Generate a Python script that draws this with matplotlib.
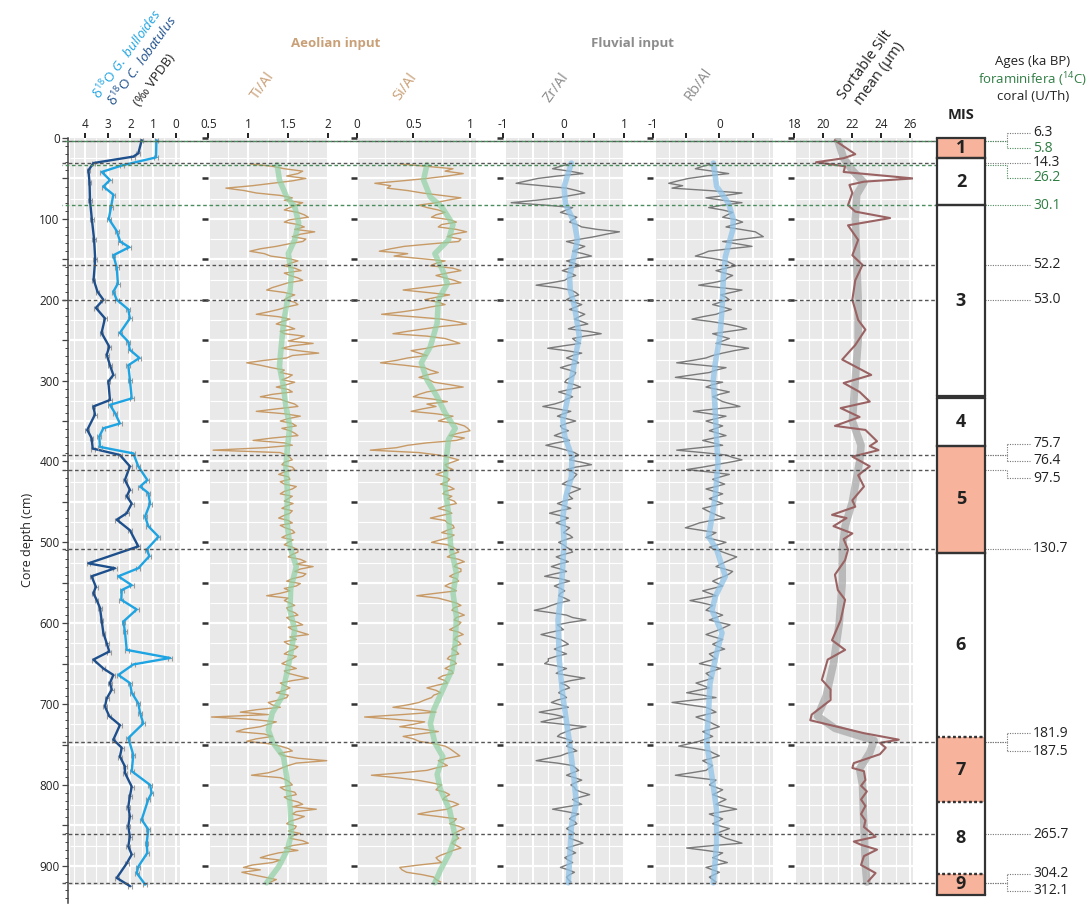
import numpy as np
import matplotlib
matplotlib.use('Agg')
import matplotlib.pyplot as plt
from matplotlib.patches import Rectangle
from matplotlib.ticker import MultipleLocator

plt.rcParams['font.family'] = ['Open Sans', 'DejaVu Sans']
plt.rcParams['mathtext.fontset'] = 'custom'
plt.rcParams['mathtext.rm'] = 'Open Sans'
plt.rcParams['mathtext.it'] = 'Open Sans:italic'
plt.rcParams['mathtext.bf'] = 'Open Sans:bold'

# ---- stable isotopes (depth cm, per mil VPDB) ----
lob_depth = [3, 19, 23, 31, 40, 55, 77, 100, 125, 150, 175, 190, 200, 210, 223, 241, 258, 268, 281, 293,
             301, 324, 332, 342, 361, 371, 384, 392, 406, 423, 435, 443, 452, 464, 472, 485, 505, 526, 532, 542,
             555, 563, 571, 581, 596, 612, 625, 635, 645, 656, 664, 674, 682, 693, 703, 715, 726, 744, 754, 765,
             777, 785, 802, 814, 827, 839, 851, 864, 876, 886, 897, 915, 925]
lob_d18o = [1.50, 1.65, 1.87, 3.63, 3.85, 3.80, 3.78, 3.70, 3.60, 3.55, 3.62, 3.45, 3.19, 3.52, 3.12, 3.27, 2.93, 3.04, 2.90, 2.75,
            2.97, 2.90, 3.63, 3.56, 3.90, 3.71, 3.66, 2.46, 2.02, 2.24, 2.02, 2.16, 1.94, 2.16, 2.60, 2.02, 1.65, 3.85, 2.68, 3.71,
            3.52, 3.63, 3.49, 3.34, 3.27, 3.19, 3.04, 2.93, 3.63, 3.19, 2.75, 2.90, 2.82, 3.04, 3.12, 2.93, 2.46, 2.75, 2.38, 2.46,
            2.24, 2.24, 1.94, 2.02, 2.09, 2.02, 2.09, 2.02, 2.09, 1.94, 2.16, 2.60, 2.02]
bul_depth = [3, 24, 34, 42, 52, 60, 70, 85, 100, 115, 128, 135, 145, 160, 180, 190, 200, 212, 223, 241,
             252, 262, 272, 281, 299, 322, 330, 340, 353, 359, 369, 382, 390, 406, 423, 431, 439, 452, 468, 480,
             493, 509, 517, 532, 542, 553, 559, 571, 583, 598, 610, 633, 643, 651, 664, 674, 686, 699, 711, 724,
             742, 763, 783, 800, 810, 818, 843, 855, 872, 884, 901, 909, 923]
bul_d18o = [0.85, 0.87, 2.38, 3.26, 2.90, 3.19, 2.75, 2.85, 2.95, 2.60, 2.45, 2.05, 2.75, 2.60, 2.55, 2.75, 2.60, 2.09, 2.02, 2.46,
            2.09, 2.02, 1.60, 2.09, 2.02, 1.94, 2.90, 2.68, 2.46, 3.19, 3.37, 3.34, 1.87, 1.65, 1.25, 1.57, 1.21, 1.13, 1.35, 1.21,
            0.76, 1.28, 1.16, 1.65, 2.53, 1.94, 2.38, 2.40, 1.72, 2.31, 2.24, 2.16, 0.25, 1.87, 2.53, 2.02, 1.94, 1.65, 1.57, 1.43,
            2.09, 1.87, 1.94, 1.13, 1.06, 1.21, 1.50, 1.21, 1.28, 1.25, 1.65, 1.72, 1.35]

# ---- XRF ratios: even scans every 6 cm from 32 cm, odd scans in between (35 cm onwards) ----
ti_al = [1.02, 1.45, 1.62, 1.72, 1.30, 0.72, 1.10, 1.55, 1.68, 1.52,
         1.62, 1.75, 1.45, 1.70, 1.83, 1.55, 1.68, 1.35, 1.02, 1.28,
         1.62, 1.45, 1.66, 1.52, 1.68, 1.40, 1.23, 1.58, 1.45, 1.62,
         1.38, 1.10, 1.52, 1.35, 1.58, 1.45, 1.62, 1.81, 1.42, 1.88,
         1.48, 0.98, 1.29, 1.40, 1.50, 1.58, 1.35, 1.55, 1.15, 1.48,
         1.62, 1.10, 1.65, 1.40, 1.60, 1.52, 1.62, 1.06, 1.55, 0.56,
         1.48, 1.55, 1.42, 1.58, 1.38, 1.52, 1.45, 1.55, 1.40, 1.50,
         1.56, 1.42, 1.52, 1.38, 1.55, 1.46, 1.58, 1.42, 1.50, 1.55,
         1.62, 1.50, 1.72, 1.81, 1.58, 1.68, 1.48, 1.60, 1.52, 1.23,
         1.45, 1.58, 1.50, 1.62, 1.52, 1.68, 1.55, 1.75, 1.60, 1.50,
         1.58, 1.45, 1.55, 1.42, 1.60, 1.50, 1.75, 1.40, 1.52, 1.35,
         1.48, 1.25, 1.40, 0.90, 0.54, 1.35, 1.15, 0.85, 1.30, 0.98,
         1.40, 1.55, 1.45, 1.98, 1.50, 1.35, 1.04, 1.48, 1.55, 1.45,
         1.60, 1.50, 1.68, 1.85, 1.55, 1.62, 1.48, 1.58, 1.65, 1.52,
         1.75, 1.45, 1.38, 1.15, 1.30, 0.94, 0.92, 1.20, 1.28]
ti_al_mid = [1.30, 1.68, 1.48, 1.55, 1.05, 0.95, 1.40, 1.45, 1.60, 1.45,
             1.70, 1.52, 1.62, 1.58, 1.65, 1.72, 1.50, 1.15, 1.20, 1.50,
             1.52, 1.58, 1.45, 1.62, 1.50, 1.30, 1.45, 1.50, 1.58, 1.48,
             1.25, 1.38, 1.42, 1.50, 1.40, 1.70, 1.50, 1.55, 1.62, 1.55,
             1.20, 1.15, 1.45, 1.55, 1.42, 1.48, 1.50, 1.30, 1.40, 1.58,
             1.35, 1.45, 1.50, 1.55, 1.42, 1.58, 1.30, 1.45, 1.20, 1.40,
             1.52, 1.45, 1.55, 1.45, 1.50, 1.40, 1.60, 1.45, 1.55, 1.45,
             1.48, 1.55, 1.44, 1.50, 1.40, 1.55, 1.48, 1.56, 1.45, 1.62,
             1.55, 1.65, 1.60, 1.65, 1.72, 1.55, 1.65, 1.45, 1.40, 1.50,
             1.52, 1.48, 1.58, 1.48, 1.62, 1.50, 1.65, 1.52, 1.45, 1.62,
             1.50, 1.60, 1.48, 1.52, 1.45, 1.62, 1.55, 1.45, 1.45, 1.50,
             1.38, 1.30, 1.10, 1.25, 1.05, 1.25, 0.95, 1.20, 1.10, 1.25,
             1.50, 1.38, 1.62, 1.60, 1.42, 1.25, 1.40, 1.52, 1.40, 1.58,
             1.45, 1.62, 1.55, 1.60, 1.70, 1.52, 1.60, 1.50, 1.55, 1.68,
             1.55, 1.62, 1.25, 1.40, 1.05, 1.15, 1.05, 1.35]
si_al = [0.38, 0.85, 0.94, 0.62, 0.16, 0.27, 0.58, 0.92, 0.70, 0.62,
         0.78, 0.66, 0.88, 0.72, 0.97, 0.80, 0.90, 0.42, 0.20, 0.33,
         0.78, 0.65, 0.92, 0.70, 0.86, 0.75, 0.41, 0.82, 0.60, 0.78,
         0.55, 0.22, 0.75, 0.97, 0.60, 0.32, 0.78, 0.91, 0.62, 0.55,
         0.45, 0.21, 0.60, 0.72, 0.55, 0.68, 0.94, 0.62, 0.50, 0.80,
         0.70, 0.48, 0.85, 0.72, 0.95, 1.00, 0.82, 0.88, 0.45, 0.12,
         0.72, 0.90, 0.78, 0.85, 0.70, 0.82, 0.74, 0.86, 0.76, 0.80,
         0.88, 0.72, 0.84, 0.65, 0.80, 0.86, 0.75, 0.82, 0.66, 0.85,
         0.90, 0.80, 0.95, 0.86, 0.92, 0.82, 0.90, 0.78, 0.88, 0.53,
         0.80, 0.92, 0.84, 0.95, 0.86, 0.90, 0.82, 0.94, 0.86, 0.92,
         0.84, 0.90, 0.80, 0.88, 0.78, 0.85, 0.72, 0.80, 0.62, 0.74,
         0.66, 0.55, 0.32, 0.70, 0.07, 0.60, 0.38, 0.72, 0.41, 0.55,
         0.78, 0.85, 0.91, 0.72, 0.80, 0.62, 0.13, 0.53, 0.75, 0.70,
         0.82, 0.76, 0.90, 0.80, 0.54, 0.88, 0.82, 0.95, 0.86, 0.90,
         0.84, 0.92, 0.80, 0.70, 0.75, 0.38, 0.44, 0.68, 0.74]
si_al_mid = [0.62, 0.78, 0.80, 0.40, 0.30, 0.45, 0.75, 0.80, 0.55, 0.72,
             0.70, 0.82, 0.75, 0.88, 0.85, 0.92, 0.65, 0.30, 0.45, 0.55,
             0.70, 0.85, 0.80, 0.78, 0.92, 0.58, 0.62, 0.70, 0.72, 0.65,
             0.40, 0.50, 0.88, 0.75, 0.45, 0.62, 0.85, 0.72, 0.48, 0.62,
             0.35, 0.42, 0.65, 0.62, 0.64, 0.82, 0.75, 0.55, 0.68, 0.62,
             0.58, 0.70, 0.78, 0.88, 0.98, 0.90, 0.95, 0.62, 0.35, 0.55,
             0.82, 0.84, 0.80, 0.76, 0.78, 0.80, 0.82, 0.78, 0.84, 0.86,
             0.78, 0.80, 0.74, 0.78, 0.85, 0.80, 0.86, 0.74, 0.80, 0.88,
             0.84, 0.90, 0.88, 0.92, 0.86, 0.88, 0.82, 0.84, 0.70, 0.72,
             0.88, 0.86, 0.90, 0.88, 0.92, 0.86, 0.90, 0.88, 0.90, 0.86,
             0.88, 0.82, 0.86, 0.82, 0.84, 0.76, 0.78, 0.70, 0.70, 0.68,
             0.60, 0.45, 0.55, 0.40, 0.35, 0.50, 0.58, 0.55, 0.50, 0.68,
             0.82, 0.88, 0.80, 0.76, 0.70, 0.40, 0.35, 0.65, 0.72, 0.78,
             0.78, 0.85, 0.84, 0.65, 0.72, 0.86, 0.90, 0.90, 0.88, 0.86,
             0.88, 0.85, 0.74, 0.72, 0.55, 0.40, 0.58, 0.70]
zr_al = [0.10, -0.18, 0.32, -0.42, -0.78, 0.05, 0.35, -0.10, -0.86, 0.15,
         -0.05, 0.22, 0.10, 0.30, 0.92, 0.51, 0.05, 0.35, 0.15, 0.46,
         0.05, 0.28, -0.02, 0.20, 0.02, -0.45, 0.12, 0.25, 0.05, 0.30,
         0.10, 0.35, 0.18, 0.40, 0.08, 0.62, 0.15, 0.28, -0.26, 0.30,
         0.05, 0.25, -0.05, 0.20, 0.12, 0.02, 0.28, -0.08, 0.15, -0.02,
         -0.34, 0.12, -0.10, 0.20, -0.05, 0.08, -0.15, 0.10, -0.29, 0.05,
         0.25, 0.10, 0.46, 0.05, 0.22, 0.15, -0.02, 0.28, 0.08, 0.15,
         -0.10, 0.12, -0.23, 0.08, -0.12, 0.10, 0.00, 0.15, -0.08, 0.05,
         0.15, -0.12, 0.08, -0.20, 0.05, -0.31, 0.10, -0.15, 0.02, -0.08,
         0.10, -0.20, -0.48, 0.05, 0.37, -0.10, 0.00, -0.37, -0.05, 0.08,
         -0.15, 0.05, -0.25, -0.31, 0.05, -0.12, 0.35, -0.05, 0.10, -0.08,
         0.05, -0.20, 0.08, -0.40, 0.02, -0.37, 0.37, 0.05, -0.10, 0.15,
         0.05, 0.22, -0.05, -0.45, 0.15, 0.25, 0.05, 0.30, 0.12, 0.20,
         0.43, 0.15, 0.30, -0.18, 0.25, 0.10, 0.22, 0.05, 0.18, 0.10,
         0.32, 0.05, 0.20, 0.02, 0.15, -0.05, 0.18, 0.05, 0.12]
zr_al_mid = [-0.05, 0.10, -0.10, -0.60, -0.35, 0.22, 0.12, -0.45, -0.30, 0.05,
             0.10, 0.15, 0.22, 0.55, 0.70, 0.28, 0.20, 0.25, 0.32, 0.22,
             0.18, 0.10, 0.12, 0.08, -0.20, -0.10, 0.20, 0.12, 0.18, 0.20,
             0.25, 0.26, 0.30, 0.20, 0.40, 0.35, 0.20, 0.00, 0.05, 0.15,
             0.18, 0.08, 0.10, 0.18, 0.05, 0.18, 0.10, 0.05, 0.05, -0.15,
             -0.10, 0.00, 0.05, 0.05, -0.02, -0.05, 0.00, -0.12, -0.10, 0.18,
             0.15, 0.30, 0.20, 0.15, 0.18, 0.05, 0.15, 0.18, 0.10, 0.00,
             0.02, -0.08, -0.05, -0.02, 0.00, 0.05, 0.10, 0.02, 0.00, 0.12,
             0.00, -0.02, -0.08, -0.05, -0.15, -0.05, -0.05, -0.05, -0.05, 0.02,
             -0.08, -0.30, -0.20, 0.15, 0.10, -0.05, -0.20, -0.20, 0.02, -0.05,
             -0.05, -0.12, -0.25, -0.10, -0.05, 0.10, 0.12, 0.05, -0.02, 0.00,
             -0.10, -0.05, -0.18, -0.15, -0.20, 0.00, 0.15, -0.05, 0.05, 0.10,
             0.15, 0.05, -0.25, -0.10, 0.20, 0.15, 0.18, 0.20, 0.18, 0.30,
             0.28, 0.22, 0.05, 0.05, 0.15, 0.18, 0.12, 0.12, 0.12, 0.22,
             0.18, 0.12, 0.10, 0.08, 0.05, 0.08, 0.10, 0.08]
rb_al = [-0.10, -0.36, 0.14, -0.46, -0.76, -0.71, 0.34, -0.20, 0.34, -0.16,
         0.20, 0.05, 0.35, 0.10, 0.54, 0.66, 0.05, 0.49, -0.16, -0.36,
         0.10, 0.25, -0.05, 0.20, 0.08, -0.31, 0.34, 0.02, 0.15, -0.10,
         0.18, -0.05, -0.41, 0.10, 0.41, -0.10, 0.15, -0.05, 0.44, 0.05,
         -0.20, -0.64, 0.10, -0.15, -0.66, 0.05, -0.20, 0.15, -0.10, 0.05,
         0.31, -0.39, 0.10, -0.20, 0.05, -0.15, 0.10, -0.25, 0.05, -0.64,
         0.10, 0.34, -0.05, -0.49, 0.15, -0.10, 0.08, -0.20, 0.05, -0.15,
         0.05, -0.25, -0.10, 0.08, -0.30, -0.51, -0.05, -0.20, 0.10, -0.15,
         0.05, 0.26, 0.10, -0.05, 0.20, 0.08, -0.10, 0.05, -0.25, -0.05,
         -0.44, -0.10, -0.20, 0.05, -0.15, 0.16, 0.00, -0.20, 0.05, -0.10,
         0.08, -0.15, -0.05, -0.30, 0.02, -0.20, -0.10, -0.35, -0.15, -0.49,
         -0.05, -0.71, -0.20, -0.05, -0.35, -0.15, 0.00, -0.25, -0.10, -0.30,
         -0.61, -0.15, 0.00, -0.25, -0.10, -0.20, -0.66, -0.05, -0.15, 0.05,
         -0.10, 0.10, -0.05, 0.26, -0.15, 0.05, -0.10, 0.15, -0.05, 0.10,
         0.34, -0.49, 0.05, -0.10, 0.12, -0.20, 0.00, -0.15, -0.05]
rb_al_mid = [-0.25, -0.10, -0.20, -0.62, -0.55, -0.15, 0.10, 0.05, 0.05, 0.05,
             0.12, 0.25, 0.22, 0.32, 0.60, 0.35, 0.28, 0.15, -0.25, -0.10,
             0.18, 0.10, 0.08, 0.12, -0.10, 0.02, 0.18, 0.10, 0.02, 0.05,
             0.05, -0.25, -0.12, 0.28, 0.15, 0.02, 0.05, 0.20, 0.22, -0.10,
             -0.40, -0.25, -0.05, -0.40, -0.30, -0.10, -0.02, 0.00, -0.02, 0.18,
             -0.05, -0.15, -0.05, -0.08, -0.05, -0.02, -0.08, -0.10, -0.30, -0.25,
             0.20, 0.15, -0.25, -0.15, 0.02, -0.02, -0.05, -0.08, -0.05, -0.05,
             -0.10, -0.18, -0.02, -0.12, -0.40, -0.28, -0.12, -0.05, -0.02, -0.05,
             0.15, 0.18, 0.02, 0.08, 0.15, -0.02, -0.02, -0.10, -0.15, -0.25,
             -0.25, -0.15, -0.05, -0.05, 0.00, 0.08, -0.10, -0.08, -0.02, -0.02,
             -0.05, -0.10, -0.18, -0.12, -0.10, -0.15, -0.22, -0.25, -0.32, -0.25,
             -0.38, -0.45, -0.12, -0.20, -0.25, -0.08, -0.12, -0.18, -0.20, -0.45,
             -0.35, -0.08, -0.12, -0.18, -0.15, -0.42, -0.35, -0.10, -0.05, -0.02,
             0.00, 0.02, 0.10, 0.05, -0.05, -0.02, 0.02, 0.05, 0.02, 0.22,
             -0.10, -0.20, -0.02, 0.00, -0.05, -0.10, -0.08, -0.10]

# smoothed trends
ti_smooth_depth = [33, 52, 73, 85, 105, 126, 143, 167, 190, 200, 229, 270, 283, 307, 332, 357, 381, 406, 439,
                   472, 505, 530, 557, 584, 608, 633, 658, 691, 711, 732, 748, 765, 790, 823, 860, 880, 901, 921]
ti_smooth = [1.36, 1.39, 1.48, 1.58, 1.63, 1.58, 1.50, 1.54, 1.52, 1.49, 1.44, 1.40, 1.39, 1.44, 1.47, 1.52, 1.49, 1.47, 1.49,
             1.48, 1.52, 1.60, 1.53, 1.52, 1.58, 1.54, 1.49, 1.42, 1.30, 1.25, 1.31, 1.44, 1.48, 1.52, 1.54, 1.49, 1.38, 1.23]
si_smooth_depth = [33, 52, 73, 85, 107, 126, 143, 164, 180, 200, 229, 258, 278, 299, 320, 340, 359, 373, 398, 431,
                   464, 505, 538, 563, 592, 625, 658, 682, 707, 724, 748, 765, 787, 806, 831, 864, 884, 905, 921]
si_smooth = [0.62, 0.59, 0.65, 0.75, 0.85, 0.81, 0.69, 0.76, 0.80, 0.72, 0.71, 0.65, 0.57, 0.62, 0.71, 0.78, 0.87, 0.81, 0.79, 0.78,
             0.81, 0.83, 0.88, 0.85, 0.88, 0.87, 0.84, 0.76, 0.68, 0.65, 0.69, 0.76, 0.71, 0.74, 0.82, 0.87, 0.82, 0.74, 0.69]
zr_smooth_depth = [31, 60, 81, 105, 126, 147, 171, 188, 208, 245, 278, 311, 349, 369, 394, 419, 443, 468, 501,
                   563, 596, 645, 691, 748, 790, 822, 851, 892, 921]
zr_smooth = [0.13, 0.01, 0.03, 0.18, 0.23, 0.17, 0.10, 0.11, 0.18, 0.26, 0.18, 0.10, -0.01, 0.02, 0.14, 0.13, 0.04, -0.01, 0.01,
             -0.04, -0.09, -0.07, -0.01, 0.10, 0.17, 0.21, 0.13, 0.10, 0.08]
rb_smooth_depth = [31, 60, 81, 101, 114, 126, 147, 175, 212, 245, 278, 299, 340, 373, 402, 443, 468, 493, 509, 542,
                   567, 584, 612, 637, 674, 707, 748, 790, 831, 872, 921]
rb_smooth = [-0.09, -0.04, 0.14, 0.21, 0.20, 0.16, 0.09, 0.06, 0.04, 0.01, -0.06, -0.09, -0.06, -0.04, -0.02, -0.06, -0.11, -0.16,
             -0.04, 0.09, -0.06, -0.11, 0.04, -0.04, -0.14, -0.16, -0.19, -0.11, -0.04, -0.04, -0.09]

# ---- sortable silt mean (um) ----
ss_depth = [3, 20, 25, 30, 35, 42, 50, 54, 58, 68, 83, 91, 99, 108, 126, 145, 157, 176, 200, 225,
            237, 256, 274, 293, 303, 314, 326, 334, 345, 356, 361, 375, 381, 386, 394, 406, 417, 431, 448, 456,
            466, 470, 480, 489, 496, 509, 522, 540, 559, 571, 596, 621, 633, 645, 670, 682, 695, 713, 720, 736,
            744, 748, 754, 762, 773, 779, 783, 794, 801, 808, 818, 826, 836, 844, 852, 864, 870, 874, 880, 888,
            899, 909, 919]
ss_mean = [20.8, 22.2, 21.4, 19.5, 21.5, 21.4, 26.2, 22.8, 21.8, 22.0, 21.7, 22.2, 24.6, 21.7, 22.4, 22.0, 22.7, 22.2, 22.0, 22.4,
           22.9, 22.2, 21.3, 23.3, 21.4, 22.5, 23.2, 21.2, 22.5, 20.8, 22.9, 23.7, 23.2, 23.8, 22.0, 23.2, 22.4, 22.8, 22.0, 22.2,
           20.6, 21.6, 20.7, 22.0, 21.4, 21.7, 21.5, 20.8, 21.0, 21.5, 21.2, 20.6, 21.5, 20.3, 19.9, 20.5, 20.5, 19.2, 19.1, 22.8,
           25.2, 23.9, 24.3, 23.9, 22.1, 22.0, 22.8, 22.9, 22.6, 23.0, 22.6, 22.9, 22.6, 22.9, 22.8, 23.6, 22.1, 22.6, 23.7, 22.8,
           22.6, 23.6, 23.1]
ss_smooth_depth = [3, 25, 40, 55, 70, 100, 150, 200, 250, 300, 350, 380, 400, 450, 480, 510, 550, 600, 650, 690,
                   715, 730, 745, 760, 780, 800, 850, 900, 920]
ss_smooth = [21.0, 21.4, 22.0, 22.8, 22.3, 22.2, 22.3, 22.4, 22.4, 22.2, 22.0, 22.6, 22.5, 22.0, 21.5, 21.3, 21.3, 21.1, 20.7, 20.2,
             19.6, 20.8, 23.5, 23.2, 22.5, 22.7, 22.8, 22.9, 23.0]

# ---- marine isotope stages ----
mis_stage = ['1', '2', '3', '4', '5', '6', '7', '8', '9']
mis_top = [0, 25, 83, 321, 381, 513, 741, 821, 910]
mis_base = [25, 83, 319, 381, 513, 741, 821, 910, 936]
mis_warm = [True, False, False, False, True, False, True, False, True]
mis_uncertain = [741, 821, 910]

# ---- dated levels ----
age_ka = ['6.3', '5.8', '14.3', '26.2', '30.1', '52.2', '53.0', '75.7', '76.4', '97.5',
          '130.7', '181.9', '187.5', '265.7', '304.2', '312.1']
age_depth = [4.0, 4.3, 31.3, 34.0, 83.0, 157, 200, 392, 392, 411, 508, 747, 747, 861, 921.5, 921.5]
age_method = ['coral', 'foram', 'coral', 'foram', 'foram', 'coral', 'coral', 'coral', 'coral', 'coral',
              'coral', 'coral', 'coral', 'coral', 'coral', 'coral']
label_shift_px = [-8.5, 7.0, -0.5, 12.5, 0, 0, 0, -11, 6, 8, 0, -9, 9, 0, -9.5, 7.5]


def interleave(even, odd):
    out = np.empty(len(even) + len(odd))
    out[0::2] = even
    out[1::2] = odd
    return out


ti_scan = interleave(ti_al, ti_al_mid)
si_scan = interleave(si_al, si_al_mid)
zr_scan = interleave(zr_al, zr_al_mid)
rb_scan = interleave(rb_al, rb_al_mid)
xrf_depth = np.linspace(32, 920, len(ti_scan))

# ---- layout ----
W, H = 1089, 905
TOP, BOT = 138, 903
YMAX = 946
BG_DEPTH = 924
PXCM = (BOT - TOP) / YMAX
GREY = '#e9e9e9'
TAN = '#c79a66'
TAN_TXT = '#c9a077'
GREEN_SM = '#8fd0a2'
BLUE_SM = '#8fc3e8'
XRF_GREY = '#7a7a7a'
LIGHT = '#1ea4e2'
DARK = '#1d4f8c'
FORAM = '#2f7d43'
SALMON = '#f7b39b'
TXT = '#222222'

fig = plt.figure(figsize=(W / 100, H / 100), dpi=100)


def fpos(x, y):
    return x / W, 1 - y / H


def panel(x0, x1, xlim):
    ax = fig.add_axes([x0 / W, 1 - BOT / H, (x1 - x0) / W, (BOT - TOP) / H], zorder=2)
    ax.set_xlim(*xlim)
    ax.set_ylim(YMAX, 0)
    ax.patch.set_visible(False)
    for s in ax.spines.values():
        s.set_visible(False)
    return ax


def backdrop(ax, xa, xb, xgrid, xmajor):
    ax.add_patch(Rectangle((xa, 0), xb - xa, BG_DEPTH, fc=GREY, ec='none', zorder=0.1))
    for x in xgrid:
        lw = 1.5 if any(abs(x - m) < 1e-6 for m in xmajor) else 0.8
        ax.vlines(x, 0, BG_DEPTH, colors='white', lw=lw, zorder=0.3)
    for y in range(25, 925, 25):
        ax.hlines(y, xa, xb, colors='white', lw=1.6 if y % 50 == 0 else 0.8, zorder=0.3)


def top_ticks(ax, ticks, labels):
    ax.xaxis.tick_top()
    ax.set_xticks(ticks, labels)
    ax.tick_params(axis='x', length=3.8, width=1.4, color=TXT, labelsize=8.5, pad=1.5, labelcolor=TXT)


def side_dashes(ax):
    ax.set_yticks(np.arange(0, 901, 50))
    ax.tick_params(axis='y', length=4.2, width=1.8, color='#333333', labelleft=False)


# δ18O panel with the depth axis
ax0 = panel(68, 180, (4.75, -0.19))
backdrop(ax0, 4.66, -0.19, np.arange(0, 4.51, 0.5), [0, 1, 2, 3, 4])
top_ticks(ax0, [4, 3, 2, 1, 0], ['4', '3', '2', '1', '0'])
ax0.spines['left'].set_visible(True)
ax0.spines['left'].set_color('#444444')
ax0.spines['left'].set_linewidth(1.1)
ax0.set_yticks(np.arange(0, 901, 50), [str(d) if d % 100 == 0 else '' for d in range(0, 901, 50)])
ax0.yaxis.set_minor_locator(MultipleLocator(10))
ax0.tick_params(axis='y', which='major', length=4, width=0.9, color='#444444', labelsize=8.5, pad=2, labelcolor=TXT)
ax0.tick_params(axis='y', which='minor', length=2.3, width=0.7, color='#444444')
ax0.errorbar(lob_d18o, lob_depth, xerr=0.08, color=DARK, lw=1.7, ecolor='#9a9a9a', elinewidth=0.8,
             capsize=1.8, capthick=0.8, zorder=3)
ax0.errorbar(bul_d18o, bul_depth, xerr=0.08, color=LIGHT, lw=1.7, ecolor='#9a9a9a', elinewidth=0.8,
             capsize=1.8, capthick=0.8, zorder=4)

# XRF panels
ax1 = panel(208.3, 328.3, (0.5, 2.0))
backdrop(ax1, 0.52, 1.99, np.arange(0.75, 2.01, 0.25), [1.0, 1.5, 2.0])
top_ticks(ax1, [0.5, 1, 1.5, 2], ['0.5', '1', '1.5', '2'])
side_dashes(ax1)
ax1.plot(ti_scan, xrf_depth, color=TAN, lw=1.0, zorder=2)
ax1.plot(ti_smooth, ti_smooth_depth, color=GREEN_SM, lw=4, alpha=0.7, solid_capstyle='round', zorder=3)

ax2 = panel(356.7, 476, (0, 1.053))
backdrop(ax2, 0.01, 1.053, np.arange(0.25, 1.01, 0.25), [0.5, 1.0])
top_ticks(ax2, [0, 0.5, 1], ['0', '0.5', '1'])
side_dashes(ax2)
ax2.plot(si_scan, xrf_depth, color=TAN, lw=1.0, zorder=2)
ax2.plot(si_smooth, si_smooth_depth, color=GREEN_SM, lw=4, alpha=0.7, solid_capstyle='round', zorder=3)

ax3 = panel(502.7, 624.3, (-1, 1.0))
backdrop(ax3, -0.94, 1.0, np.arange(-0.75, 1.01, 0.25), [-0.5, 0, 0.5, 1.0])
top_ticks(ax3, [-1, -0.5, 0, 0.5, 1], ['-1', '', '0', '', '1'])
side_dashes(ax3)
ax3.plot(zr_scan, xrf_depth, color=XRF_GREY, lw=1.0, zorder=2)
ax3.plot(zr_smooth, zr_smooth_depth, color=BLUE_SM, lw=4, alpha=0.75, solid_capstyle='round', zorder=3)

ax4 = panel(652.7, 773.3, (-1, 0.81))
backdrop(ax4, -0.95, 0.81, np.arange(-0.75, 0.76, 0.25), [-0.5, 0, 0.5])
top_ticks(ax4, [-1, -0.5, 0, 0.5], ['-1', '', '0', ''])
side_dashes(ax4)
ax4.plot(rb_scan, xrf_depth, color=XRF_GREY, lw=1.0, zorder=2)
ax4.plot(rb_smooth, rb_smooth_depth, color=BLUE_SM, lw=4, alpha=0.75, solid_capstyle='round', zorder=3)

# sortable silt
ax5 = panel(794.3, 913.3, (18, 26.2))
backdrop(ax5, 18.15, 26.2, np.arange(19, 26.1, 1), [20, 22, 24, 26])
top_ticks(ax5, [18, 20, 22, 24, 26], ['18', '20', '22', '24', '26'])
side_dashes(ax5)
ax5.plot(ss_smooth, ss_smooth_depth, color='#aaaaaa', lw=5.5, alpha=0.75, solid_capstyle='round', zorder=2)
ax5.plot(ss_mean, ss_depth, color='#9a6262', lw=1.5, zorder=3)

# overlay: dated levels, MIS column and age labels
ov = fig.add_axes([0, 1 - BOT / H, 1, (BOT - TOP) / H], zorder=10)
ov.set_xlim(0, W)
ov.set_ylim(YMAX, 0)
ov.axis('off')
ov.patch.set_visible(False)

seen = set()
for d, m in zip(age_depth, age_method):
    if (d, m) in seen:
        continue
    seen.add((d, m))
    col = '#555555' if m == 'coral' else '#4a8c5c'
    ov.plot([62, 937], [d, d], color=col, lw=1.0, ls=(0 if m == 'coral' else 2.2, (2.6, 1.9)), zorder=2)

for top, base, stage, warm in zip(mis_top, mis_base, mis_stage, mis_warm):
    ov.add_patch(Rectangle((937, top), 48, base - top, fc=SALMON if warm else 'white', ec='none', zorder=4))
    ov.vlines([937, 985], top, base, colors='#333333', lw=1.6, zorder=5)
    for edge in (top, base):
        ls = (0, (1.2, 1.2)) if edge in mis_uncertain else '-'
        ov.plot([937, 985], [edge, edge], color='#333333', lw=1.6, ls=ls, zorder=5, clip_on=False)
    ov.text(961, (top + base) / 2, stage, ha='center', va='center', fontsize=13, fontweight='bold',
            color=TXT, zorder=6)

for label, d, m, shift in zip(age_ka, age_depth, age_method, label_shift_px):
    col = '#777777' if m == 'coral' else '#4a8c5c'
    tcol = TXT if m == 'coral' else FORAM
    ly = d + shift / PXCM
    dots = (0, (1.0, 1.2))
    if shift == 0:
        ov.plot([985, 1030], [d, d], color=col, lw=0.8, ls=dots, clip_on=False)
    else:
        ov.plot([985, 1006.5], [d, d], color=col, lw=0.8, ls=dots, clip_on=False)
        ov.plot([1006.5, 1006.5], [d, ly], color=col, lw=0.8, ls=dots, clip_on=False)
        ov.plot([1006.5, 1030], [ly, ly], color=col, lw=0.8, ls=dots, clip_on=False)
    ov.text(1033, ly, label, ha='left', va='center', fontsize=10, color=tcol, clip_on=False)

# headers
fig.text(*fpos(1033, 62), 'Ages (ka BP)', ha='center', va='center', fontsize=9.5, color=TXT)
fig.text(*fpos(1033, 80), 'foraminifera ($^{14}$C)', ha='center', va='center', fontsize=9.5, color=FORAM)
fig.text(*fpos(1033, 97), 'coral (U/Th)', ha='center', va='center', fontsize=9.5, color=TXT)
fig.text(*fpos(961, 115), 'MIS', ha='center', va='center', fontsize=10.5, fontweight='bold', color=TXT)
fig.text(*fpos(336, 44), 'Aeolian input', ha='center', va='center', fontsize=9.5, fontweight='bold', color=TAN_TXT)
fig.text(*fpos(632, 44), 'Fluvial input', ha='center', va='center', fontsize=9.5, fontweight='bold', color='#8c8c8c')

rot_labels = [
    (100, 100, r'δ$^{18}$O $\mathit{G.\ bulloides}$', LIGHT, 9.6),
    (115, 107, r'δ$^{18}$O $\mathit{C.\ lobatulus}$', DARK, 9.6),
    (139, 107, '(‰ VPDB)', TXT, 9.6),
    (257, 100, 'Ti/Al', TAN_TXT, 10.5),
    (399, 101, 'Si/Al', TAN_TXT, 10.5),
    (549, 103, 'Zr/Al', '#8c8c8c', 10.5),
    (691, 101, 'Rb/Al', '#8c8c8c', 10.5),
    (844, 100, 'Sortable Silt', TXT, 10.5),
    (861, 106, 'mean (µm)', TXT, 10.5),
]
for x, y, s, c, fs in rot_labels:
    fig.text(*fpos(x, y), s, rotation=54, rotation_mode='anchor', ha='left', va='baseline',
             fontsize=fs, color=c)

fig.text(*fpos(27, 540), 'Core depth (cm)', rotation=90, ha='center', va='center', fontsize=9, color=TXT)

fig.savefig('out.png', dpi=100)
